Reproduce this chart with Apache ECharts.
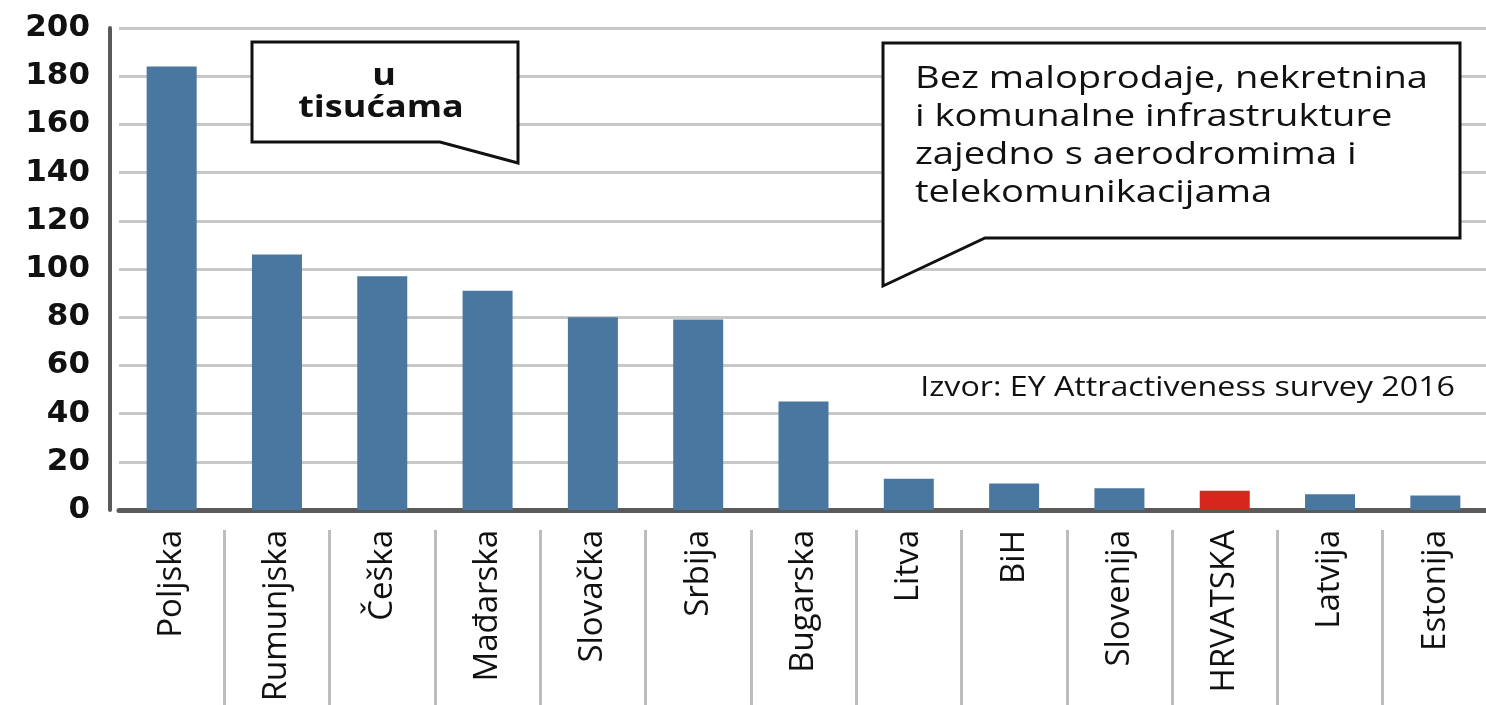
<!DOCTYPE html>
<html lang="hr">
<head>
<meta charset="UTF-8">
<title>Zaposleni - EY Attractiveness survey 2016</title>
<script src="https://cdn.jsdelivr.net/npm/echarts@6/dist/echarts.min.js"></script>
<style>
  html, body { margin: 0; padding: 0; background: #fff; }
  #chart { width: 1486px; height: 705px; }
</style>
</head>
<body>
<div id="chart"></div>
<script>
// zemlje i broj radnih mjesta (u tisućama)
var countries = ['Poljska', 'Rumunjska', 'Češka', 'Mađarska', 'Slovačka', 'Srbija', 'Bugarska',
                 'Litva', 'BiH', 'Slovenija', 'HRVATSKA', 'Latvija', 'Estonija'];
var jobs = [184, 106, 97, 91, 80, 79, 45, 13, 11, 9, 8, 6.5, 6];
var yTicks = [0, 20, 40, 60, 80, 100, 120, 140, 160, 180, 200];
var highlight = 'HRVATSKA';

var chart = echarts.init(document.getElementById('chart'));

var barData = jobs.map(function (v, i) {
    return {
        value: v,
        itemStyle: { color: countries[i] === highlight ? '#d8261d' : '#4a77a0' }
    };
});

chart.setOption({
    backgroundColor: '#fff',
    animation: false,
    grid: {
        left: 119, right: -2, top: 28, bottom: 195,
        containLabel: false,
        outerBoundsMode: 'none'
    },
    xAxis: [
        {
            type: 'category',
            data: countries,
            axisLine: { lineStyle: { color: '#5a5a5a', width: 5 } },
            axisTick: { show: false },
            axisLabel: {
                rotate: 90,
                margin: 20,
                fontFamily: 'Open Sans',
                fontSize: 33,
                color: '#111'
            }
        },
        {
            // pregrade između naziva zemalja
            type: 'category',
            data: countries,
            position: 'bottom',
            offset: 20,
            axisLine: { show: false },
            axisLabel: { show: false },
            axisTick: {
                show: true,
                length: 180,
                interval: function (i) { return i > 0; },
                lineStyle: { color: '#bdbdbd', width: 3 }
            }
        }
    ],
    yAxis: {
        type: 'value',
        min: yTicks[0],
        max: yTicks[yTicks.length - 1],
        interval: 20,
        offset: 9,
        axisLine: { show: true, lineStyle: { color: '#5a5a5a', width: 4 } },
        axisTick: { show: false },
        splitLine: { lineStyle: { color: '#c8c8c8', width: 3 } },
        axisLabel: {
            margin: 20,
            fontFamily: 'DejaVu Sans',
            fontWeight: 'bold',
            fontSize: 31,
            color: '#111'
        }
    },
    series: [{
        type: 'bar',
        data: barData,
        barWidth: 50
    }],
    graphic: [
        // oblačić "u tisućama"
        {
            type: 'polygon',
            shape: { points: [[252, 42], [518, 42], [518, 163], [440, 142], [252, 142]] },
            style: { fill: '#fff', stroke: '#111', lineWidth: 3 },
            z: 10
        },
        {
            type: 'text',
            x: 384, y: 76, scaleX: 1.2,
            style: { text: 'u', font: 'bold 30px "Open Sans"', fill: '#111', align: 'center', verticalAlign: 'middle' },
            z: 11
        },
        {
            type: 'text',
            x: 381, y: 108, scaleX: 1.2,
            style: { text: 'tisućama', font: 'bold 30px "Open Sans"', fill: '#111', align: 'center', verticalAlign: 'middle' },
            z: 11
        },
        // oblačić s napomenom
        {
            type: 'polygon',
            shape: { points: [[883, 43], [1460, 43], [1460, 238], [985, 238], [883, 286]] },
            style: { fill: '#fff', stroke: '#111', lineWidth: 3 },
            z: 10
        },
        {
            type: 'text',
            x: 915, y: 60, scaleX: 1.23,
            style: {
                text: 'Bez maloprodaje, nekretnina\ni komunalne infrastrukture\nzajedno s aerodromima i\ntelekomunikacijama',
                font: '31px "Open Sans"',
                lineHeight: 38,
                fill: '#111'
            },
            z: 11
        },
        // izvor
        {
            type: 'text',
            x: 1455, y: 388, scaleX: 1.15,
            style: {
                text: 'Izvor: EY Attractiveness survey 2016',
                font: '28px "Open Sans"',
                fill: '#111',
                align: 'right',
                verticalAlign: 'middle'
            },
            z: 11
        }
    ]
});
</script>
</body>
</html>
